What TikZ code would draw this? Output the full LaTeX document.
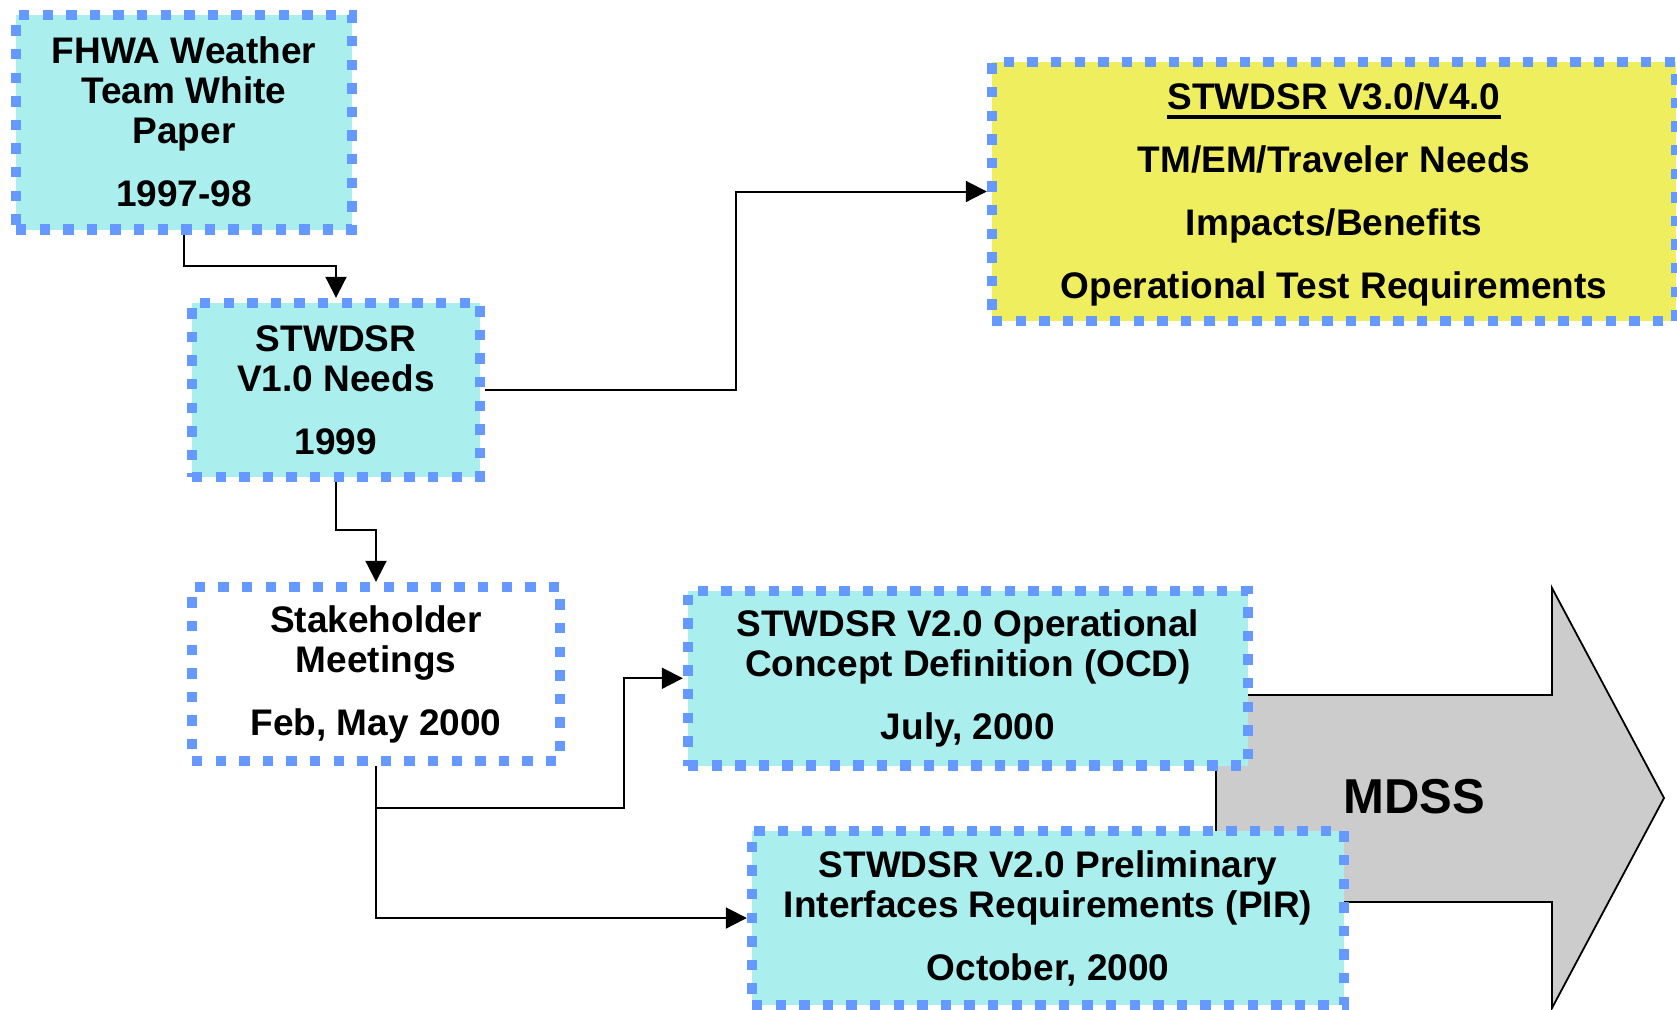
\documentclass[tikz,border=0pt]{standalone}
\usepackage{fontspec}
\setmainfont{Liberation Sans}
\usepackage{tikz}
\usetikzlibrary{
  arrows.meta,
  positioning
}
\definecolor{wxCyan}{HTML}{AAEEEE}
\definecolor{wxYellow}{HTML}{EEEE5F}
\definecolor{wxDash}{HTML}{6699FF}
\definecolor{wxGray}{HTML}{CCCCCC}
\newcommand{\ulbold}[1]{\vtop{\hbox{\rule{0pt}{16.5pt}#1}\kern2.5pt\hrule height 1.6pt}}
\tikzset{
  wxnode/.style={
    draw=wxDash, line width=5.2pt, dash pattern=on 5.2pt off 6.6pt,
    inner sep=0pt, align=center,
    font=\fontsize{18.5}{20}\selectfont\bfseries
  },
  wxbox/.style={wxnode, fill=wxCyan},
  wxmeet/.style={wxnode, fill=white},
  wxnext/.style={wxnode, fill=wxYellow, font=\fontsize{18.5}{31.5}\selectfont\bfseries},
  wxlink/.style={-{Triangle[length=10.5pt, width=10.5pt]}, line width=1pt, black},
  wxarrow/.style={draw=black, line width=0.9pt, fill=wxGray, line join=miter},
  wxlabel/.style={font=\fontsize{24.5}{28}\selectfont\bfseries}
}

\begin{document}
\begin{tikzpicture}[x=0.5pt, y=-0.5pt]
  \useasboundingbox (0,0) rectangle (1677,1009);
  % big arrow behind the V2.0 boxes
  \draw[wxarrow] (1216,695) -- (1552,695) -- (1552,588) -- (1664,798)
    -- (1552,1008) -- (1552,902) -- (1216,902) -- cycle;
  \node[wxlabel] (mdss) at (1414,797) {MDSS};

  \node[wxbox, minimum width=168pt, minimum height=107.25pt] (fhwa) at (184,122.25)
    {FHWA Weather\\Team White\\Paper\\[11.5pt]1997-98};
  \node[wxbox, minimum width=144pt, minimum height=87pt] (v1) at (336,390)
    {STWDSR\\V1.0 Needs\\[11.5pt]1999};
  \node[wxmeet, minimum width=184pt, minimum height=87pt] (meet) at (376,674)
    {Stakeholder\\Meetings\\[11.5pt]Feb, May 2000};
  \node[wxbox, minimum width=280pt, minimum height=87.25pt] (ocd) at (968,678.25)
    {STWDSR V2.0 Operational\\Concept Definition (OCD)\\[11.5pt]July, 2000};
  \node[wxbox, minimum width=296pt, minimum height=87pt] (pir) at (1048,918)
    {STWDSR V2.0 Preliminary\\Interfaces Requirements (PIR)\\[11.5pt]October, 2000};
  \node[wxnext, minimum width=342pt, minimum height=129.5pt] (v34) at (1334,191.5)
    {\ulbold{STWDSR V3.0/V4.0}\\TM/EM/Traveler Needs\\Impacts/Benefits\\Operational Test Requirements};

  \draw[wxlink] (fhwa.south) -- ++(0,31) -| (v1.north);
  \draw[wxlink] (v1.east) -- ++(251,0) |- (v34.west);
  \draw[wxlink] (v1.south) -- ++(0,48) -| (meet.north);
  \draw[wxlink] (meet.south) -- ++(0,42) -- ++(248,0) |- (ocd.west);
  \draw[wxlink] (meet.south) |- (pir.west);
\end{tikzpicture}
\end{document}
